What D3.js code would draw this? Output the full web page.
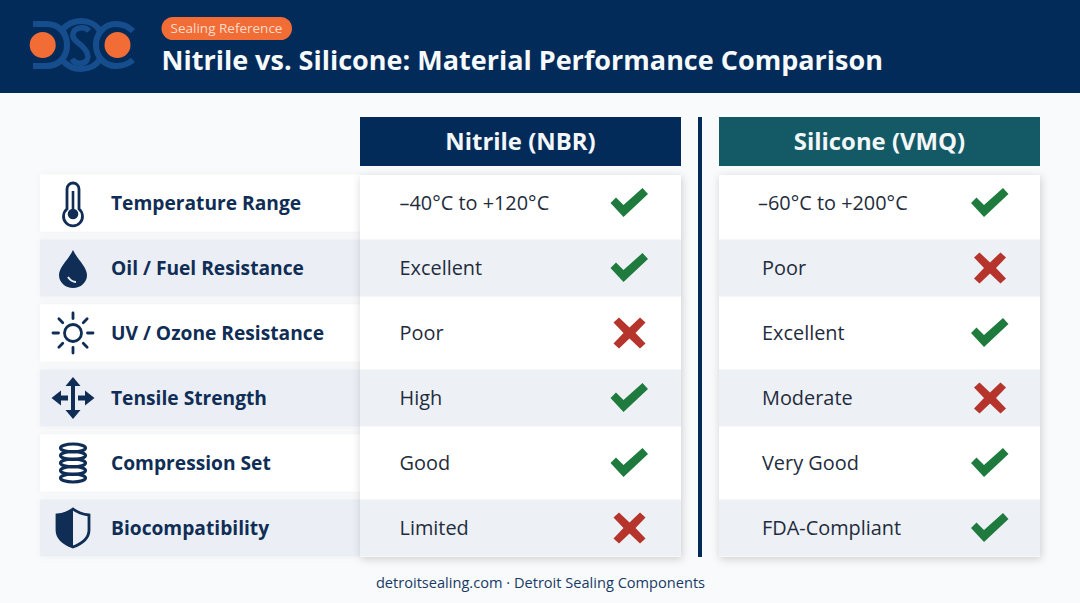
<!DOCTYPE html>
<html><head><meta charset="utf-8">
<script src="https://cdn.jsdelivr.net/npm/d3@7/dist/d3.min.js"></script>
<style>html,body{margin:0;padding:0;background:#f9fafb}svg{display:block}text{font-family:"Open Sans",sans-serif}</style>
</head><body><div id="c"></div>
<script>
const categories=["Temperature Range","Oil / Fuel Resistance","UV / Ozone Resistance","Tensile Strength","Compression Set","Biocompatibility"];
const icons=["thermo","drop","sun","arrows","spring","shield"];
const nitrileValues=["–40°C to +120°C","Excellent","Poor","High","Good","Limited"];
const nitrileMarks=[1,1,0,1,1,0];
const siliconeValues=["–60°C to +200°C","Poor","Excellent","Moderate","Very Good","FDA-Compliant"];
const siliconeMarks=[1,0,1,0,1,1];
const headers=["Nitrile (NBR)","Silicone (VMQ)"];
const badge="Sealing Reference";
const title="Nitrile vs. Silicone: Material Performance Comparison";
const footer="detroitsealing.com · Detroit Sealing Components";

const W=1080,H=603,navy="#022b5a",teal="#135a66",orange="#f26c36",green="#1f7a3d",red="#b5342c",ink="#0f2d55";
const svg=d3.select("#c").append("svg").attr("width",W).attr("height",H).attr("viewBox",`0 0 ${W} ${H}`);
const defs=svg.append("defs");
const f=defs.append("filter").attr("id","sh").attr("x","-5%").attr("y","-5%").attr("width","110%").attr("height","110%");
f.append("feDropShadow").attr("dx",1).attr("dy",2).attr("stdDeviation",4.5).attr("flood-color","#000").attr("flood-opacity",.18);
const f2=defs.append("filter").attr("id","soft").attr("x","-5%").attr("y","-20%").attr("width","110%").attr("height","140%");
f2.append("feDropShadow").attr("dx",0).attr("dy",0).attr("stdDeviation",3).attr("flood-color","#000").attr("flood-opacity",.04);
const bl=defs.append("filter").attr("id","blur");
bl.append("feGaussianBlur").attr("stdDeviation",.35);

svg.append("rect").attr("width",W).attr("height",H).attr("fill","#f9fafb");
svg.append("rect").attr("width",W).attr("height",93).attr("fill",navy);

// logo
const logo=svg.append("g").attr("fill","none").attr("stroke","#174e8c").attr("stroke-width",6).attr("filter","url(#blur)");
logo.append("path").attr("d","M33 24H46C60 24 67 34 67 45C67 56 60 66 46 66H33");
logo.append("path").attr("d","M133 31C127 25 121 24 116 24C104 24 96 34 96 45C96 56 104 66 116 66C121 66 127 65 133 60");
logo.append("path").attr("d","M62 30C68 23 75 21 81 21C88 21 96 24 100 31");
logo.append("path").attr("d","M62 60C68 67 75 69 81 69C88 69 96 66 100 59");
logo.append("path").attr("d","M89 31C85 26 74 27 73 34C72 40 79 43 82 46C86 50 90 55 87 60C84 65 75 64 72 59").attr("stroke-width",5.5);
logo.append("circle").attr("cx",42.7).attr("cy",45).attr("r",13).attr("fill",orange).attr("stroke","none");
logo.append("circle").attr("cx",117.5).attr("cy",45).attr("r",13).attr("fill",orange).attr("stroke","none");

svg.append("rect").attr("x",161.5).attr("y",17).attr("width",130.5).attr("height",23).attr("rx",11.5).attr("fill",orange);
svg.append("text").attr("x",226.5).attr("y",33).attr("text-anchor","middle").attr("font-size",13.5).attr("fill","#fbdccb").text(badge);
svg.append("text").attr("x",161.5).attr("y",69.5).attr("font-size",27).attr("font-weight",700).attr("fill","#f7fafc").text(title);

const rowC=d3.scalePoint().domain(d3.range(categories.length)).range([203,528]);
const rh=57;

// left labels
const left=svg.append("g");
categories.forEach((c,i)=>{
  left.append("rect").attr("x",40).attr("y",rowC(i)-rh/2).attr("width",320).attr("height",rh).attr("fill",i%2?"#ebeff5":"#ffffff").attr("filter","url(#soft)");
});
categories.forEach((c,i)=>{
  left.append("text").attr("x",111).attr("y",rowC(i)+6.8).attr("font-size",19.2).attr("font-weight",700).attr("fill",ink).text(c);
  drawIcon(icons[i],73,rowC(i));
});

function drawIcon(k,cx,cy){
  const g=svg.append("g").attr("transform",`translate(${cx},${cy})`).attr("fill",ink).attr("stroke",ink);
  if(k==="thermo"){
    g.append("path").attr("d","M-6 6V-14A6 6 0 0 1 6 -14V6A9.5 9.5 0 1 1 -6 6Z").attr("fill","#fff").attr("stroke-width",2.8);
    g.append("rect").attr("x",-1.3).attr("y",-12).attr("width",2.6).attr("height",20).attr("stroke","none");
    g.append("circle").attr("cy",11).attr("r",5.3).attr("stroke","none");
  } else if(k==="drop"){
    g.append("path").attr("d","M0 -18C4 -9 14 -1 14 7A14 13 0 0 1 -14 7C-14 -1 -4 -9 0 -18Z").attr("stroke","none");
    g.append("path").attr("d","M-5 9C-3 12 0 14 3 14").attr("fill","none").attr("stroke","#e9eef5").attr("stroke-width",2);
  } else if(k==="sun"){
    g.append("circle").attr("r",8.5).attr("fill","none").attr("stroke-width",2.8);
    d3.range(8).forEach(j=>{const a=j*Math.PI/4;
      g.append("line").attr("x1",Math.cos(a)*14.5).attr("y1",Math.sin(a)*14.5).attr("x2",Math.cos(a)*20).attr("y2",Math.sin(a)*20).attr("stroke-width",2.8).attr("stroke-linecap","round");});
  } else if(k==="arrows"){
    g.append("path").attr("stroke","none").attr("d","M0 -21L7.5 -12H2V12H7.5L0 21L-7.5 12H-2V-12H-7.5Z");
    g.append("path").attr("stroke","none").attr("d","M-21.5 0L-12 -7.5V-2.5H-5V2.5H-12V7.5Z");
    g.append("path").attr("stroke","none").attr("d","M21.5 0L12 -7.5V-2.5H5V2.5H12V7.5Z");
  } else if(k==="spring"){
    [-15,-7.5,0,7.5,15].forEach(d=>g.append("ellipse").attr("cy",d).attr("rx",12.5).attr("ry",4).attr("fill","none").attr("stroke-width",3.2));
  } else if(k==="shield"){
    g.append("path").attr("d","M0 -19C5 -15 11 -13.5 16 -13V2C16 11 8 16 0 19C-8 16 -16 11 -16 2V-13C-11 -13.5 -5 -15 0 -19Z").attr("fill","none").attr("stroke-width",2.8);
    g.append("path").attr("stroke","none").attr("d","M0 -19C-5 -15 -11 -13.5 -16 -13V2C-16 11 -8 16 0 19Z");
  }
}

function check(g,cx,cy){g.append("path").attr("transform",`translate(${cx},${cy})`).attr("fill",green)
  .attr("d","M-19 0L-13.5 -5.5L-6 2L13 -15L18.5 -9L-6 14Z");}
function cross(g,cx,cy){g.append("path").attr("transform",`translate(${cx},${cy})`).attr("fill",red)
  .attr("d","M-16 -10.5L-10.5 -15.5L0 -5.5L10.5 -15.5L16 -10.5L6 0L16 10.5L10.5 15.5L0 5.5L-10.5 15.5L-16 10.5L-6 0Z");}

function column(x,w,color,head,vals,marks,tx,mx){
  const g=svg.append("g");
  g.append("rect").attr("x",x).attr("y",117).attr("width",w).attr("height",49).attr("fill",color);
  g.append("text").attr("x",x+w/2).attr("y",150.3).attr("text-anchor","middle").attr("font-size",23.9).attr("font-weight",700).attr("fill","#f4f7fa").text(head);
  g.append("rect").attr("x",x).attr("y",175).attr("width",w).attr("height",382).attr("fill","#fff").attr("filter","url(#sh)");
  vals.forEach((v,i)=>{
    if(i%2) g.append("rect").attr("x",x).attr("y",rowC(i)-rh/2).attr("width",w).attr("height",rh).attr("fill","#edf0f5");
  });
  vals.forEach((v,i)=>{
    g.append("text").attr("x",tx[i]).attr("y",rowC(i)+7).attr("font-size",19.9).attr("fill","#1f2c3d").text(v);
    (marks[i]?check:cross)(g,mx,rowC(i));
  });
}
column(360,321,navy,headers[0],nitrileValues,nitrileMarks,d3.range(6).map(()=>399.5),629.5);
column(719,321,teal,headers[1],siliconeValues,siliconeMarks,[758,762,762,762,762,762],990);

svg.append("rect").attr("x",698).attr("y",117).attr("width",4).attr("height",440).attr("fill",navy);
svg.append("text").attr("x",540.5).attr("y",587.5).attr("text-anchor","middle").attr("font-size",14.6).attr("fill","#173a66").text(footer);
</script></body></html>
